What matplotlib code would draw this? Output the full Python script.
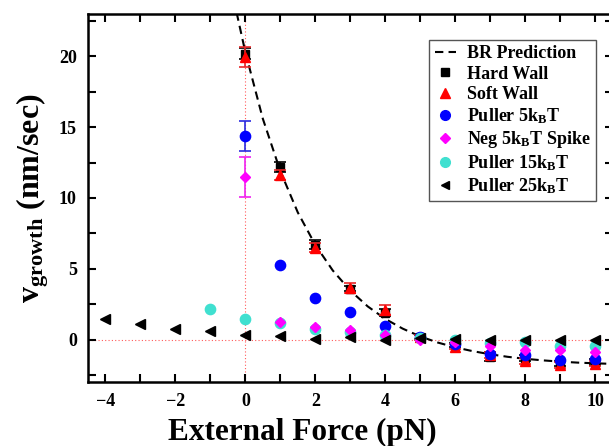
#!/usr/bin/env python3
import numpy as np
import matplotlib
matplotlib.use("Agg")
import matplotlib.pyplot as plt
from matplotlib.lines import Line2D
from matplotlib.ticker import MultipleLocator

OUTPUT_PNG = "out.png"

# BR prediction curve
br_force = [-0.25, 0, 0.5, 1, 1.5, 2, 2.5, 3, 3.5, 4, 4.5, 5, 5.5, 6, 6.5,
            7, 7.5, 8, 8.5, 9, 9.5, 10, 10.5]
br_v = [23.1, 20.3, 15.6, 11.9, 8.98, 6.69, 4.88, 3.46, 2.34, 1.46, 0.77,
        0.22, -0.21, -0.55, -0.82, -1.04, -1.22, -1.36, -1.47, -1.56, -1.63,
        -1.68, -1.72]

force = [0, 1, 2, 3, 4, 5, 6, 7, 8, 9, 10]

hard_v = [20.2, 12.2, 6.7, 3.6, 1.9, 0.2, -0.4, -1.2, -1.3, -1.7, -1.6]
hard_err = [0.4, 0.35, 0.3, 0.2, 0.25, 0.15, 0.15, 0.3, 0.2, 0.2, 0.2]

soft_v = [19.95, 11.65, 6.5, 3.63, 2.1, 0.15, -0.5, -1.1, -1.5, -1.8, -1.7]
soft_err = [0.7, 0.35, 0.35, 0.33, 0.35, 0.15, 0.15, 0.2, 0.2, 0.2, 0.2]

puller5_v = [14.4, 5.26, 2.9, 1.95, 0.96, 0.2, -0.3, -1.0, -1.1, -1.42, -1.35]
puller5_err = [1.05] + [np.nan] * 10

spike_v = [11.5, 1.25, 0.9, 0.66, 0.35, 0.0, -0.2, -0.47, -0.75, -0.75, -0.9]
spike_err = [1.4] + [np.nan] * 10

puller15_force = [-1, 0, 1, 2, 3, 4, 5, 6, 7, 8, 9, 10]
puller15_v = [2.14, 1.44, 1.2, 0.73, 0.5, 0.3, 0.1, 0.0, -0.24, -0.2, -0.47, -0.45]

puller25_force = [-4, -3, -2, -1, 0, 1, 2, 3, 4, 5, 6, 7, 8, 9, 10]
puller25_v = [1.44, 1.08, 0.73, 0.61, 0.3, 0.23, 0.07, 0.18, 0.0, 0.1, 0.07,
              -0.05, 0.0, 0.0, 0.0]

labels = ["BR Prediction", "Hard Wall", "Soft Wall",
          r"Puller 5k$_\mathrm{B}$T", r"Neg 5k$_\mathrm{B}$T Spike",
          r"Puller 15k$_\mathrm{B}$T", r"Puller 25k$_\mathrm{B}$T"]


def main():
    plt.rcParams["font.family"] = "Liberation Serif"
    plt.rcParams["font.weight"] = "bold"
    plt.rcParams["mathtext.fontset"] = "custom"
    plt.rcParams["mathtext.rm"] = "Liberation Serif:bold"
    plt.rcParams["mathtext.it"] = "Liberation Serif:bold"
    plt.rcParams["mathtext.bf"] = "Liberation Serif:bold"

    fig = plt.figure(figsize=(6.09, 4.46), dpi=100)
    ax = fig.add_axes([88 / 609, 1 - 382 / 446, 524.5 / 609, 368 / 446])

    # dotted zero lines
    ax.axhline(0, color="#ff5a5a", ls=(0, (1, 2)), lw=0.8, zorder=1)
    ax.axvline(0, color="#ff5a5a", ls=(0, (1, 2)), lw=0.8, zorder=1)

    dash = (0, (4, 2.5))
    ax.plot(br_force, br_v, color="black", ls=dash, lw=1.5, zorder=2)

    ebkw = dict(capsize=4.3, elinewidth=1.2, capthick=1.2)
    ax.errorbar(force, hard_v, yerr=hard_err, fmt="s", color="black", ms=5.8,
                zorder=3, **ebkw)
    ax.errorbar(force, soft_v, yerr=soft_err, fmt="^", color="#ff0000",
                ecolor="#e8282a", ms=7.5, zorder=4, **ebkw)
    ax.errorbar(force, puller5_v, yerr=puller5_err, fmt="o", color="#0000ff",
                ecolor="#2a2ae0", ms=7.4, zorder=5, **ebkw)
    ax.plot(puller15_force, puller15_v, "o", color="#40e0d0", ms=7.4, zorder=6)
    ax.errorbar(force, spike_v, yerr=spike_err, fmt="D", color="#ff00ff",
                ecolor="#f020f0", ms=5.2, zorder=7, **ebkw)
    ax.plot(puller25_force, puller25_v, "<", color="black", ms=6.8, zorder=8)

    ax.set_xlim(-4.5, 10.5)
    ax.set_ylim(-3, 23)
    ax.xaxis.set_major_locator(MultipleLocator(2))
    ax.xaxis.set_minor_locator(MultipleLocator(1))
    ax.yaxis.set_major_locator(MultipleLocator(5))
    ax.yaxis.set_minor_locator(MultipleLocator(2.5))
    ax.tick_params(which="both", direction="in", top=True, right=True,
                   length=6, width=1.5)
    ax.tick_params(which="major", labelsize=13, pad=8)
    for s in ax.spines.values():
        s.set_linewidth(1.8)

    fig.text(302 / 609, 1 - 440 / 446, "External Force (pN)", fontsize=22.5,
             ha="center", va="baseline")
    fig.text(33 / 609, 1 - 198 / 446, r"$\mathrm{v}_\mathrm{growth}$ (nm/sec)",
             fontsize=23, rotation=90, ha="center", va="center")

    # legend shows markers only
    handles = [
        Line2D([], [], color="black", ls=dash, lw=1.5),
        Line2D([], [], marker="s", color="black", ls="", ms=5.2),
        Line2D([], [], marker="^", color="#ff0000", ls="", ms=6.5),
        Line2D([], [], marker="o", color="#0000ff", ls="", ms=7),
        Line2D([], [], marker="D", color="#ff00ff", ls="", ms=4.8),
        Line2D([], [], marker="o", color="#40e0d0", ls="", ms=7),
        Line2D([], [], marker="<", color="black", ls="", ms=6),
    ]
    leg = ax.legend(handles, labels, loc="upper right",
                    bbox_to_anchor=((596 - 88) / 524.5, (382 - 40) / 368),
                    borderaxespad=0, fontsize=13, frameon=True, fancybox=False,
                    framealpha=1, edgecolor="#555555", borderpad=0.3,
                    handlelength=1.2, handletextpad=0.6, labelspacing=0.18)
    leg.get_frame().set_linewidth(1.0)

    fig.savefig(OUTPUT_PNG, dpi=100)


if __name__ == "__main__":
    main()
